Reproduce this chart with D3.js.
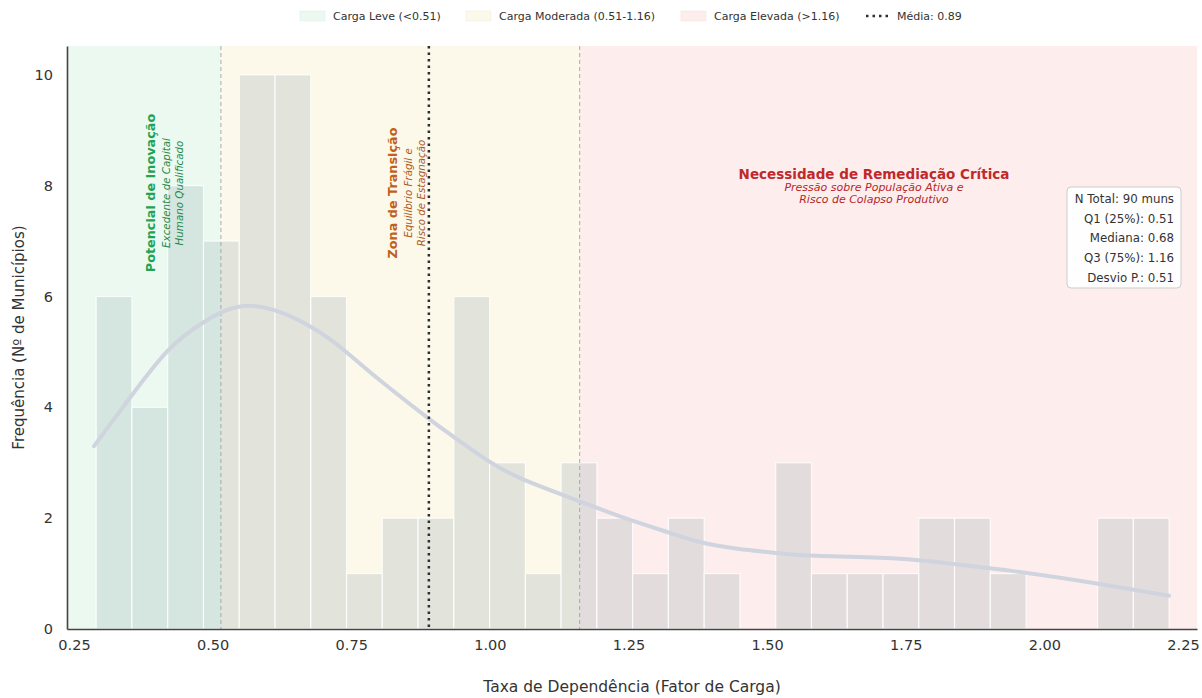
<!DOCTYPE html>
<html><head><meta charset="utf-8">
<script src="https://cdn.jsdelivr.net/npm/d3@7"></script>
<style>body{margin:0;background:#fff;} text{font-family:"DejaVu Sans",sans-serif;}</style>
</head><body>
<svg id="chart" width="1202" height="698"></svg>
<script>
// ---- data ----
const binStart = 0.29, binEnd = 2.225, nBins = 30;
const counts = [6,4,8,7,10,10,6,1,2,2,6,3,1,3,2,1,2,1,0,3,1,1,1,2,2,1,0,0,2,2];
const kdeX = [0.286,0.353,0.418,0.483,0.571,0.676,0.741,0.804,0.888,0.933,0.998,1.062,1.163,1.244,1.323,1.383,1.447,1.519,1.590,1.732,1.839,1.947,2.089,2.225];
const kdeY = [3.30,4.20,5.01,5.53,5.83,5.46,5.00,4.47,3.81,3.48,3.03,2.69,2.30,2.00,1.74,1.56,1.45,1.37,1.32,1.27,1.17,1.04,0.83,0.60];
const xTicks = [0.25,0.50,0.75,1.00,1.25,1.50,1.75,2.00,2.25];
const yTicks = [0,2,4,6,8,10];
const q1 = 0.515, q3 = 1.162, mean = 0.89;
const zones = [
  {label:"Carga Leve (<0.51)", from:null, to:q1, color:"#ebf9f1"},
  {label:"Carga Moderada (0.51-1.16)", from:q1, to:q3, color:"#fcf8ea"},
  {label:"Carga Elevada (>1.16)", from:q3, to:null, color:"#fdeeed"}
];
const statsLines = ["N Total: 90 muns","Q1 (25%): 0.51","Mediana: 0.68","Q3 (75%): 1.16","Desvio P.: 0.51"];

// ---- layout ----
const svg = d3.select("#chart");
const M = {left:67, right:1197, top:46, bottom:629};
const x = d3.scaleLinear().domain([0.2374, 2.2753]).range([M.left, M.right]);
const y = d3.scaleLinear().domain([0, 10.52]).range([M.bottom, M.top]);
const xd = x.domain();

// zones
const zg = svg.append("g");
zones.forEach(z=>{
  const a = z.from==null? xd[0] : z.from, b = z.to==null? xd[1] : z.to;
  zg.append("rect").attr("x", x(a)).attr("y", M.top).attr("width", x(b)-x(a)).attr("height", M.bottom-M.top).attr("fill", z.color);
});

// bars
const bw = (binEnd-binStart)/nBins;
svg.append("g").selectAll("rect").data(counts).join("rect")
  .attr("x",(d,i)=>x(binStart+i*bw))
  .attr("y",d=>y(d))
  .attr("width",x(binStart+bw)-x(binStart))
  .attr("height",d=>y(0)-y(d))
  .attr("fill","rgba(125,148,158,0.2)")
  .attr("stroke","#ffffff").attr("stroke-opacity",0.8).attr("stroke-width",1.2);

// zone dividers
[q1,q3].forEach(v=>{
  svg.append("line").attr("x1",x(v)).attr("x2",x(v)).attr("y1",M.top).attr("y2",M.bottom)
    .attr("stroke","#9a9a9a").attr("stroke-width",1).attr("stroke-dasharray","4,3").attr("opacity",0.8);
});

// KDE
const kde = kdeX.map((v,i)=>[v,kdeY[i]]);
svg.append("path").datum(kde)
  .attr("d", d3.line().x(d=>x(d[0])).y(d=>y(d[1])).curve(d3.curveNatural))
  .attr("fill","none").attr("stroke","#cfd4de").attr("stroke-width",4).attr("stroke-linecap","round");

// mean line
svg.append("line").attr("x1",x(mean)).attr("x2",x(mean)).attr("y1",M.top).attr("y2",M.bottom)
  .attr("stroke","#2b2f33").attr("stroke-width",2.5).attr("stroke-dasharray","2.5,4");

// axes
const xAxis = svg.append("g").attr("transform",`translate(0,${M.bottom})`)
  .call(d3.axisBottom(x).tickValues(xTicks).tickFormat(d3.format(".2f")).tickSize(0).tickPadding(11));
const yAxis = svg.append("g").attr("transform",`translate(${M.left},0)`)
  .call(d3.axisLeft(y).tickValues(yTicks).tickFormat(d3.format("d")).tickSize(0).tickPadding(14));
[xAxis,yAxis].forEach(g=>{
  g.select(".domain").attr("stroke","#444").attr("stroke-width",1.6);
  g.selectAll("text").attr("font-size",14.5).attr("fill","#333").attr("font-family","DejaVu Sans");
});

// axis labels
svg.append("text").attr("x",(M.left+M.right)/2).attr("y",692).attr("text-anchor","middle")
  .attr("font-size",15.5).attr("fill","#333").text("Taxa de Dependência (Fator de Carga)");
svg.append("text").attr("transform",`translate(24,${(M.top+M.bottom)/2}) rotate(-90)`).attr("text-anchor","middle")
  .attr("font-size",15).attr("fill","#333").text("Frequência (Nº de Municípios)");

// rotated annotations
function vtext(cx, cy, txt, size, color, weight, style){
  svg.append("text").attr("transform",`translate(${cx},${cy}) rotate(-90)`)
    .attr("text-anchor","middle").attr("dominant-baseline","central")
    .attr("font-size",size).attr("fill",color).attr("font-weight",weight||"normal").attr("font-style",style||"normal").text(txt);
}
vtext(150,193,"Potencial de Inovação",12.8,"#22a352","bold");
vtext(166,193,"Excedente de Capital",10.3,"#1f8a47","normal","italic");
vtext(179,193,"Humano Qualificado",10.3,"#1f8a47","normal","italic");
vtext(392,193,"Zona de Transição",12.8,"#c1601c","bold");
vtext(408,193,"Equilíbrio Frágil e",10.3,"#b05a1e","normal","italic");
vtext(421,193,"Risco de Estagnação",10.3,"#b05a1e","normal","italic");

svg.append("text").attr("x",874).attr("y",179).attr("text-anchor","middle").attr("font-size",13.5)
  .attr("font-weight","bold").attr("fill","#c0292b").text("Necessidade de Remediação Crítica");
svg.append("text").attr("x",874).attr("y",190.5).attr("text-anchor","middle").attr("font-size",11)
  .attr("font-style","italic").attr("fill","#b8262a").text("Pressão sobre População Ativa e");
svg.append("text").attr("x",874).attr("y",202.5).attr("text-anchor","middle").attr("font-size",11)
  .attr("font-style","italic").attr("fill","#b8262a").text("Risco de Colapso Produtivo");

// stats box
svg.append("rect").attr("x",1067).attr("y",187).attr("width",114).attr("height",101).attr("rx",4)
  .attr("fill","#ffffff").attr("fill-opacity",0.9).attr("stroke","#cccccc").attr("stroke-width",1);
statsLines.forEach((t,i)=>{
  svg.append("text").attr("x",1174).attr("y",203+i*19.7).attr("text-anchor","end")
    .attr("font-size",11.8).attr("fill","#333").text(t);
});

// legend
const lg = svg.append("g");
const legX = [300,466,681];
zones.forEach((z,i)=>{
  lg.append("rect").attr("x",legX[i]).attr("y",11).attr("width",25).attr("height",10)
    .attr("fill",z.color).attr("stroke",d3.color(z.color).darker(0.15)).attr("stroke-width",0.5);
  lg.append("text").attr("x",legX[i]+33).attr("y",20).attr("font-size",11).attr("fill","#333").text(z.label);
});
lg.append("line").attr("x1",866).attr("x2",890).attr("y1",16).attr("y2",16)
  .attr("stroke","#2b2f33").attr("stroke-width",2.5).attr("stroke-dasharray","2.5,4");
lg.append("text").attr("x",897).attr("y",20).attr("font-size",11).attr("fill","#333").text("Média: "+mean.toFixed(2));
</script>
</body></html>
